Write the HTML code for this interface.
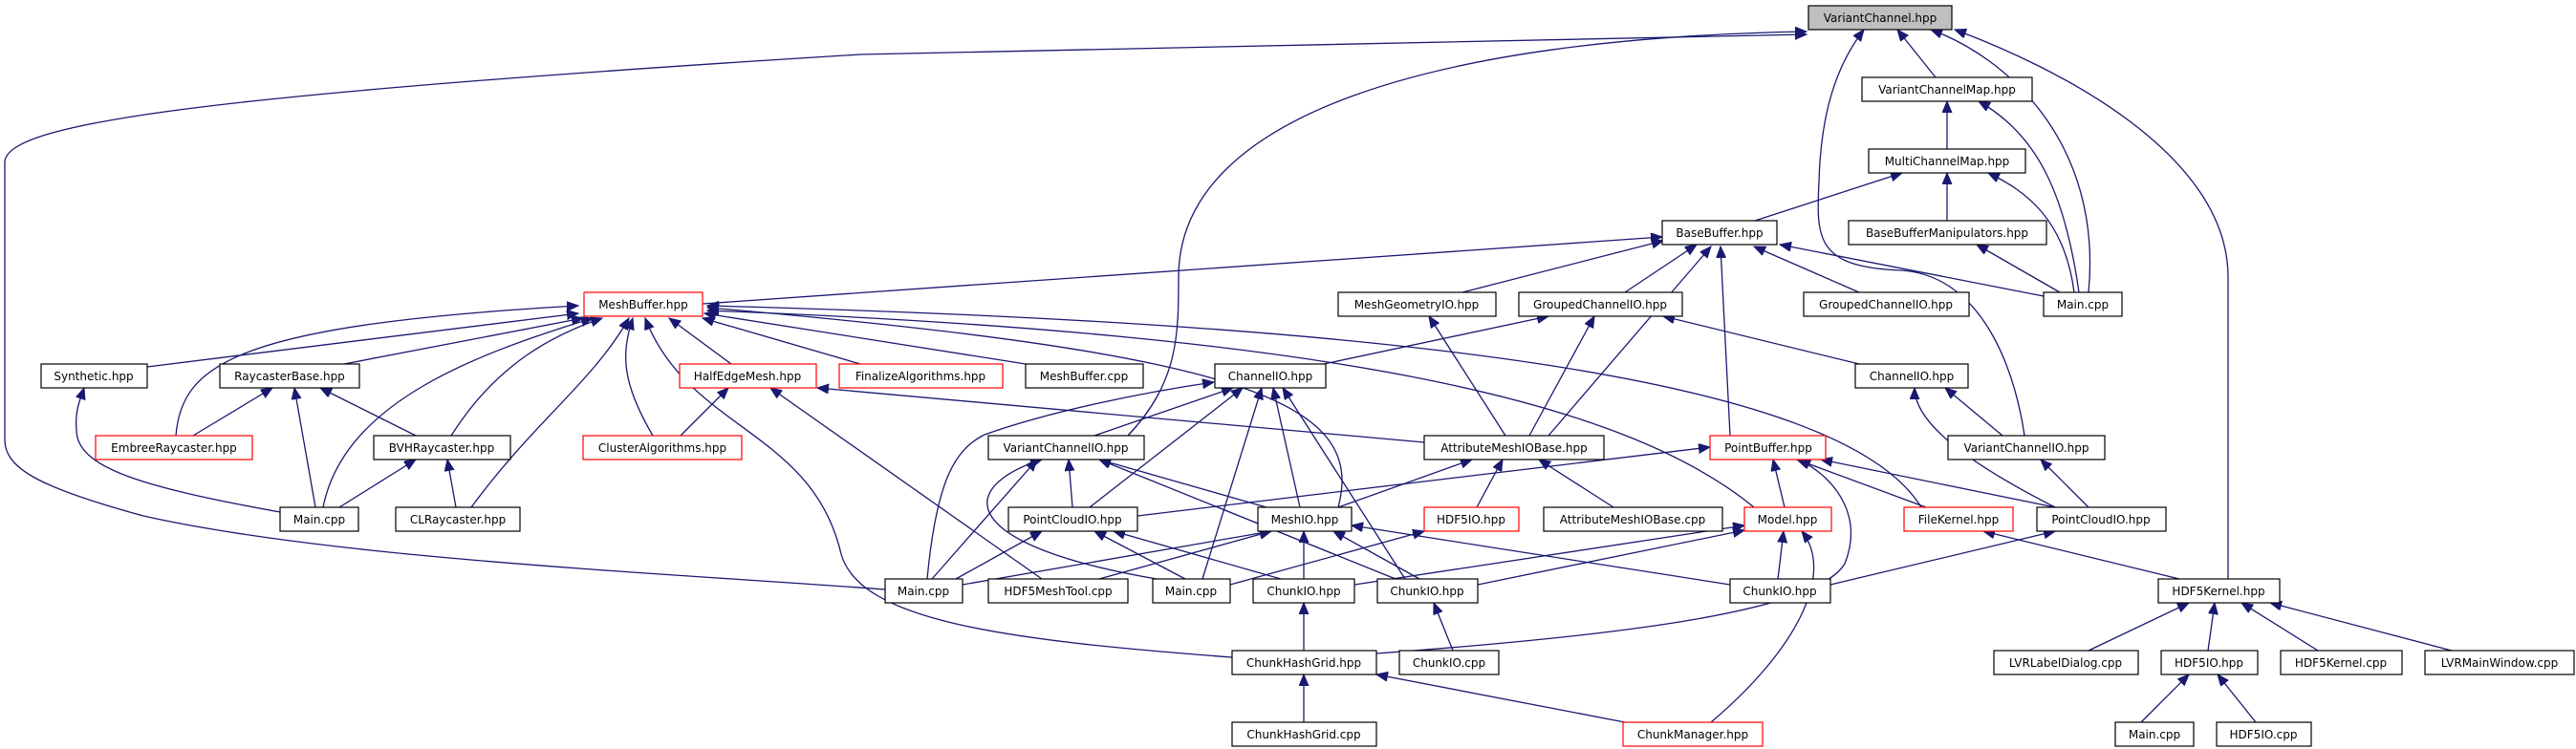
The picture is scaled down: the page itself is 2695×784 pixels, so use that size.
<!DOCTYPE html>
<html><head><meta charset="utf-8"><style>
html,body{margin:0;padding:0;background:#fff;}
svg{display:block;}
text{font-family:"DejaVu Sans","Liberation Sans",sans-serif;font-size:12px;fill:#000;text-anchor:middle;}
.e{fill:none;stroke:#191970;stroke-width:1.3;marker-end:url(#a);}
.n{fill:#fff;stroke:#000;stroke-width:1.2;}
.r{fill:#fff;stroke:#ff0000;stroke-width:1.2;}
</style></head><body>
<svg width="2695" height="784" viewBox="0 0 2695 784" xmlns="http://www.w3.org/2000/svg">
<defs><marker id="a" markerUnits="userSpaceOnUse" markerWidth="14" markerHeight="12" refX="12" refY="5" orient="auto"><path d="M0,0 L12,5 L0,10 z" fill="#191970" stroke="#191970"/></marker></defs>
<g>
<path class="e" d="M2025,81 L1985,31"/>
<path class="e" d="M2185,306 C2200,150 2100,60 2020,31"/>
<path class="e" d="M2175,306 C2160,200 2130,140 2070,106"/>
<path class="e" d="M2037,156 L2037,106"/>
<path class="e" d="M2170,306 C2160,230 2120,200 2080,181"/>
<path class="e" d="M2037,231 L2037,181"/>
<path class="e" d="M1836,231 L1990,181"/>
<path class="e" d="M2155,306 L2068,256"/>
<path class="e" d="M2138,310 L1862,256"/>
<path class="e" d="M1945,306 L1835,258"/>
<path class="e" d="M1530,306 L1740,252"/>
<path class="e" d="M1700,306 L1775,256"/>
<path class="e" d="M735,318 L1739,248"/>
<path class="e" d="M1620,456 L1790,258"/>
<path class="e" d="M1810,456 L1800,258"/>
<path class="e" d="M2118,456 C2110,400 2080,290 1990,283 C1900,280 1900,250 1903,190 C1905,120 1920,70 1950,31"/>
<path class="e" d="M2331,606 L2331,290 C2331,160 2150,70 2045,31"/>
<path class="e" d="M1180,456 C1233,400 1233,350 1233,290 C1233,120 1500,40 1890,33"/>
<path class="e" d="M926,617 C700,600 350,585 150,540 C40,510 5,490 5,460 L5,170 C5,130 200,100 900,57 L1890,36"/>
<path class="e" d="M154,384 L605,328"/>
<path class="e" d="M360,381 L610,333"/>
<path class="e" d="M184,456 C190,380 250,340 605,320"/>
<path class="e" d="M338,531 C360,420 500,370 620,333"/>
<path class="e" d="M472,456 C520,380 580,350 630,333"/>
<path class="e" d="M493,531 C560,440 620,400 658,333"/>
<path class="e" d="M683,456 C650,400 650,370 662,333"/>
<path class="e" d="M1289,688 C1050,670 900,650 880,580 C850,450 720,450 675,333"/>
<path class="e" d="M765,381 L700,333"/>
<path class="e" d="M900,381 L735,333"/>
<path class="e" d="M1073,381 L737,328"/>
<path class="e" d="M1400,531 C1430,420 1300,370 740,322"/>
<path class="e" d="M1835,531 C1700,420 1400,350 740,325"/>
<path class="e" d="M2010,531 C1930,400 1500,340 740,320"/>
<path class="e" d="M712,456 L762,406"/>
<path class="e" d="M1490,463 L855,406"/>
<path class="e" d="M1090,606 L806,406"/>
<path class="e" d="M202,456 L285,406"/>
<path class="e" d="M330,531 L308,406"/>
<path class="e" d="M435,456 L335,406"/>
<path class="e" d="M293,536 C150,510 80,490 80,450 C78,430 84,418 88,406"/>
<path class="e" d="M355,531 L435,481"/>
<path class="e" d="M477,531 L468,481"/>
<path class="e" d="M1385,381 L1620,331"/>
<path class="e" d="M1145,456 L1290,406"/>
<path class="e" d="M1140,531 L1300,406"/>
<path class="e" d="M1360,531 L1332,406"/>
<path class="e" d="M970,606 C980,500 1000,470 1030,455 C1100,430 1200,410 1270,400"/>
<path class="e" d="M1258,606 L1320,406"/>
<path class="e" d="M1470,606 L1342,406"/>
<path class="e" d="M1600,456 L1668,331"/>
<path class="e" d="M1575,456 L1495,331"/>
<path class="e" d="M1122,531 L1118,481"/>
<path class="e" d="M1325,531 L1150,481"/>
<path class="e" d="M975,606 L1085,481"/>
<path class="e" d="M1460,606 L1150,481"/>
<path class="e" d="M1210,606 C1000,570 1000,510 1090,481"/>
<path class="e" d="M1400,531 L1540,481"/>
<path class="e" d="M1545,531 L1572,481"/>
<path class="e" d="M1688,531 L1610,481"/>
<path class="e" d="M1190,540 L1789,468"/>
<path class="e" d="M1867,531 L1855,481"/>
<path class="e" d="M2015,531 L1880,481"/>
<path class="e" d="M2150,531 L1905,481"/>
<path class="e" d="M1440,684 C1700,665 1900,640 1930,590 C1950,540 1920,500 1882,481"/>
<path class="e" d="M1000,606 L1090,556"/>
<path class="e" d="M1240,606 L1145,556"/>
<path class="e" d="M1340,606 L1165,556"/>
<path class="e" d="M1007,612 L1330,556"/>
<path class="e" d="M1150,606 L1330,556"/>
<path class="e" d="M1364,606 L1364,556"/>
<path class="e" d="M1485,606 L1395,556"/>
<path class="e" d="M1810,612 L1414,550"/>
<path class="e" d="M1287,612 L1490,556"/>
<path class="e" d="M1417,612 L1825,550"/>
<path class="e" d="M1546,612 L1825,555"/>
<path class="e" d="M1860,606 L1866,556"/>
<path class="e" d="M1790,756 C1880,680 1920,600 1885,556"/>
<path class="e" d="M1915,612 L2150,556"/>
<path class="e" d="M2280,606 L2075,556"/>
<path class="e" d="M2150,531 C2050,480 2003,440 2003,406"/>
<path class="e" d="M2185,531 L2135,481"/>
<path class="e" d="M2095,456 L2035,406"/>
<path class="e" d="M1945,381 L1740,331"/>
<path class="e" d="M1364,681 L1364,631"/>
<path class="e" d="M1520,681 L1500,631"/>
<path class="e" d="M1364,756 L1364,706"/>
<path class="e" d="M1700,756 L1440,706"/>
<path class="e" d="M2185,681 L2290,631"/>
<path class="e" d="M2310,681 L2317,631"/>
<path class="e" d="M2425,681 L2345,631"/>
<path class="e" d="M2565,681 L2375,631"/>
<path class="e" d="M2240,756 L2290,706"/>
<path class="e" d="M2360,756 L2320,706"/>
</g>
<g>
<rect x="1892" y="6" width="150" height="25" fill="#bfbfbf" stroke="#000" stroke-width="1.2"/><text x="1967" y="23">VariantChannel.hpp</text>
<rect class="n" x="1948" y="81" width="178" height="25"/><text x="2037" y="98">VariantChannelMap.hpp</text>
<rect class="n" x="1955" y="156" width="164" height="25"/><text x="2037" y="173">MultiChannelMap.hpp</text>
<rect class="n" x="1739" y="231" width="120" height="25"/><text x="1799" y="248">BaseBuffer.hpp</text>
<rect class="n" x="1934" y="231" width="207" height="25"/><text x="2037" y="248">BaseBufferManipulators.hpp</text>
<rect class="r" x="611" y="306" width="124" height="25"/><text x="673" y="323">MeshBuffer.hpp</text>
<rect class="n" x="1400" y="306" width="165" height="25"/><text x="1482" y="323">MeshGeometryIO.hpp</text>
<rect class="n" x="1589" y="306" width="171" height="25"/><text x="1674" y="323">GroupedChannelIO.hpp</text>
<rect class="n" x="1887" y="306" width="173" height="25"/><text x="1973" y="323">GroupedChannelIO.hpp</text>
<rect class="n" x="2138" y="306" width="82" height="25"/><text x="2179" y="323">Main.cpp</text>
<rect class="n" x="43" y="381" width="111" height="25"/><text x="98" y="398">Synthetic.hpp</text>
<rect class="n" x="230" y="381" width="146" height="25"/><text x="303" y="398">RaycasterBase.hpp</text>
<rect class="r" x="711" y="381" width="143" height="25"/><text x="782" y="398">HalfEdgeMesh.hpp</text>
<rect class="r" x="878" y="381" width="171" height="25"/><text x="963" y="398">FinalizeAlgorithms.hpp</text>
<rect class="n" x="1073" y="381" width="123" height="25"/><text x="1134" y="398">MeshBuffer.cpp</text>
<rect class="n" x="1271" y="381" width="116" height="25"/><text x="1329" y="398">ChannelIO.hpp</text>
<rect class="n" x="1941" y="381" width="118" height="25"/><text x="2000" y="398">ChannelIO.hpp</text>
<rect class="r" x="100" y="456" width="164" height="25"/><text x="182" y="473">EmbreeRaycaster.hpp</text>
<rect class="n" x="391" y="456" width="143" height="25"/><text x="462" y="473">BVHRaycaster.hpp</text>
<rect class="r" x="610" y="456" width="166" height="25"/><text x="693" y="473">ClusterAlgorithms.hpp</text>
<rect class="n" x="1034" y="456" width="163" height="25"/><text x="1115" y="473">VariantChannelIO.hpp</text>
<rect class="n" x="1490" y="456" width="188" height="25"/><text x="1584" y="473">AttributeMeshIOBase.hpp</text>
<rect class="r" x="1789" y="456" width="121" height="25"/><text x="1850" y="473">PointBuffer.hpp</text>
<rect class="n" x="2038" y="456" width="164" height="25"/><text x="2120" y="473">VariantChannelIO.hpp</text>
<rect class="n" x="293" y="531" width="82" height="25"/><text x="334" y="548">Main.cpp</text>
<rect class="n" x="414" y="531" width="130" height="25"/><text x="479" y="548">CLRaycaster.hpp</text>
<rect class="n" x="1055" y="531" width="135" height="25"/><text x="1122" y="548">PointCloudIO.hpp</text>
<rect class="n" x="1316" y="531" width="98" height="25"/><text x="1365" y="548">MeshIO.hpp</text>
<rect class="r" x="1490" y="531" width="99" height="25"/><text x="1539" y="548">HDF5IO.hpp</text>
<rect class="n" x="1615" y="531" width="187" height="25"/><text x="1708" y="548">AttributeMeshIOBase.cpp</text>
<rect class="r" x="1825" y="531" width="91" height="25"/><text x="1870" y="548">Model.hpp</text>
<rect class="r" x="1992" y="531" width="114" height="25"/><text x="2049" y="548">FileKernel.hpp</text>
<rect class="n" x="2131" y="531" width="135" height="25"/><text x="2198" y="548">PointCloudIO.hpp</text>
<rect class="n" x="926" y="606" width="81" height="25"/><text x="966" y="623">Main.cpp</text>
<rect class="n" x="1034" y="606" width="146" height="25"/><text x="1107" y="623">HDF5MeshTool.cpp</text>
<rect class="n" x="1206" y="606" width="81" height="25"/><text x="1246" y="623">Main.cpp</text>
<rect class="n" x="1311" y="606" width="106" height="25"/><text x="1364" y="623">ChunkIO.hpp</text>
<rect class="n" x="1441" y="606" width="105" height="25"/><text x="1493" y="623">ChunkIO.hpp</text>
<rect class="n" x="1810" y="606" width="105" height="25"/><text x="1862" y="623">ChunkIO.hpp</text>
<rect class="n" x="2258" y="606" width="127" height="25"/><text x="2321" y="623">HDF5Kernel.hpp</text>
<rect class="n" x="1289" y="681" width="151" height="25"/><text x="1364" y="698">ChunkHashGrid.hpp</text>
<rect class="n" x="1464" y="681" width="104" height="25"/><text x="1516" y="698">ChunkIO.cpp</text>
<rect class="n" x="2086" y="681" width="151" height="25"/><text x="2161" y="698">LVRLabelDialog.cpp</text>
<rect class="n" x="2261" y="681" width="101" height="25"/><text x="2311" y="698">HDF5IO.hpp</text>
<rect class="n" x="2386" y="681" width="127" height="25"/><text x="2449" y="698">HDF5Kernel.cpp</text>
<rect class="n" x="2537" y="681" width="156" height="25"/><text x="2615" y="698">LVRMainWindow.cpp</text>
<rect class="n" x="1289" y="756" width="151" height="25"/><text x="1364" y="773">ChunkHashGrid.cpp</text>
<rect class="r" x="1698" y="756" width="146" height="25"/><text x="1771" y="773">ChunkManager.hpp</text>
<rect class="n" x="2213" y="756" width="82" height="25"/><text x="2254" y="773">Main.cpp</text>
<rect class="n" x="2319" y="756" width="99" height="25"/><text x="2368" y="773">HDF5IO.cpp</text>
</g>
</svg>
</body></html>
